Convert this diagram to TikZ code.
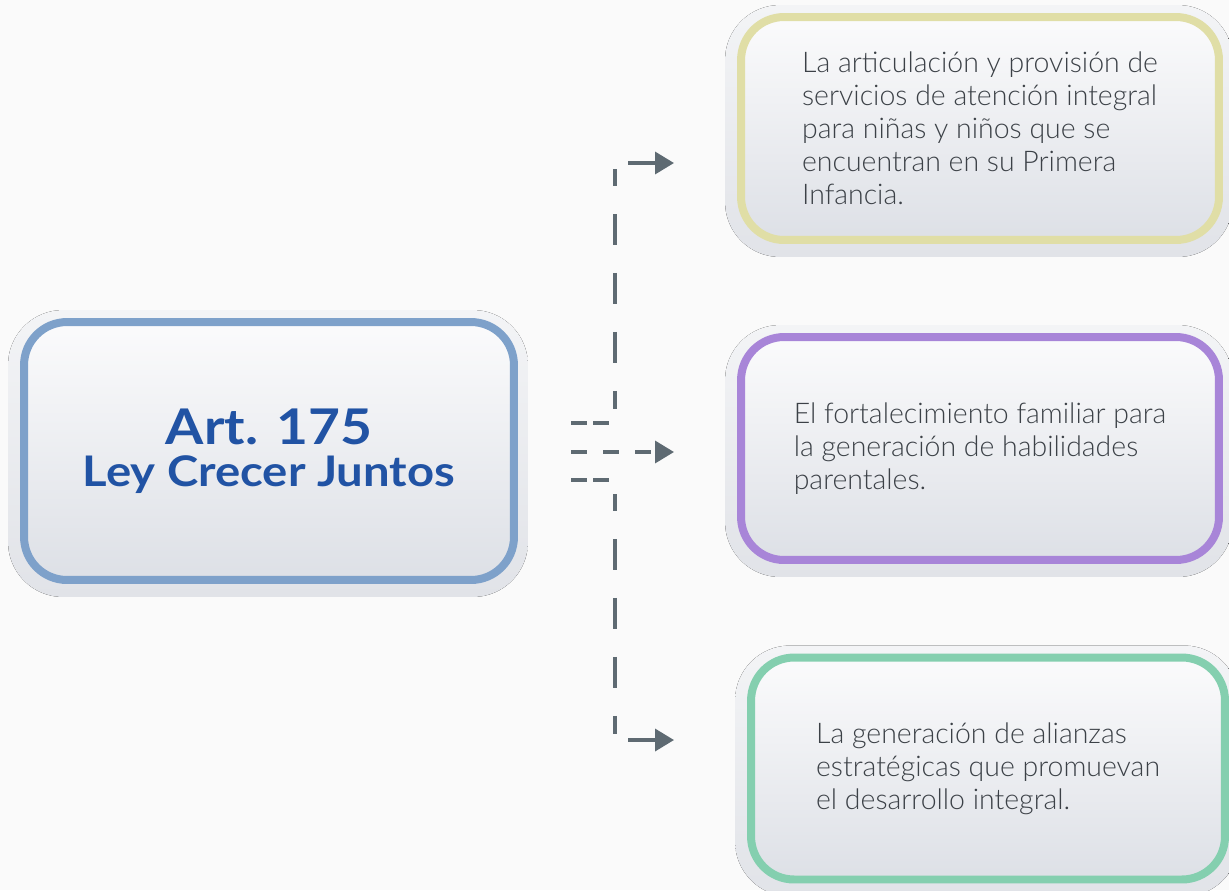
\documentclass[tikz,border=0pt]{standalone}
\usepackage{fontspec}
\setmainfont{Lato}
\newfontfamily\lightfont{Lato Light}
\newfontfamily\titlefont[FakeStretch=1.12]{Lato}
\usetikzlibrary{arrows.meta,backgrounds}

\definecolor{paper}{HTML}{FAFAFA}
\definecolor{titleblue}{HTML}{2153A4}
\definecolor{bodytext}{HTML}{3C4147}
\definecolor{cardtop}{HTML}{FBFBFC}
\definecolor{cardbot}{HTML}{DDE0E6}
\definecolor{halotop}{HTML}{F3F4F6}
\definecolor{halobot}{HTML}{E1E3E8}
\definecolor{edgeblue}{HTML}{7EA1CA}
\definecolor{edgeyellow}{HTML}{E0DEA6}
\definecolor{edgepurple}{HTML}{A885D8}
\definecolor{edgegreen}{HTML}{84CFAF}
\definecolor{linkgray}{HTML}{5E6A72}

\tikzset{
  card/.style={draw,line width=0.16cm,rounded corners=0.86cm,top color=cardtop,bottom color=cardbot,
    align=left,text=bodytext,font=\lightfont\fontsize{16.2}{18.8}\selectfont},
  halo/.style={rounded corners=1.1cm,top color=halotop,bottom color=halobot},
  link/.style={linkgray,line width=0.07cm},
  linkdash/.style={link,dash pattern=on 0.62cm off 0.56cm,dash phase=0.28cm},
  tip/.style={-{Triangle[length=0.38cm,width=0.44cm]}}
}

\begin{document}
\begin{tikzpicture}[x=0.02cm,y=-0.02cm]
  \useasboundingbox (0,0) rectangle (1229,890);
  \node[card,draw=edgeblue,align=center,text=titleblue,font=\titlefont\bfseries\fontsize{24}{24}\selectfont,
    minimum width=9.8cm,minimum height=5.16cm](art)at(269,451)
    {{\fontsize{28}{24}\selectfont Art. 175}\\Ley Crecer Juntos};
  \node[card,draw=edgeyellow,minimum width=9.56cm,minimum height=4.46cm](srv)at(980,128.5)
    {La articulación y provisión de\\servicios de atención integral\\para niñas y niños que se\\encuentran en su Primera\\Infancia.};
  \node[card,draw=edgepurple,minimum width=9.56cm,minimum height=4.46cm](fam)at(980,448.5)
    {El fortalecimiento familiar para\\la generación de habilidades\\parentales.};
  \node[card,draw=edgegreen,minimum width=9.48cm,minimum height=4.44cm](ali)at(988,768.5)
    {La generación de alianzas\\estratégicas que promuevan\\el desarrollo integral.};

  \begin{scope}[on background layer]
    \fill[paper](0,0)rectangle(1229,890);
    \foreach \c in {art,srv,fam,ali}
      \fill[halo]([shift={(-12,-8)}]\c.north west)rectangle([shift={(10,13)}]\c.south east);
  \end{scope}

  \coordinate(vtop)at(615,169);
  \coordinate(vup)at(615,409);
  \coordinate(vdown)at(615,494);
  \coordinate(vbot)at(615,734);
  \draw[linkdash](vtop)--(vup);
  \draw[linkdash](vdown)--(vbot);

  \coordinate(hup)at(571,423);
  \coordinate(hupend)at(609,423);
  \coordinate(hlow)at(571,480);
  \coordinate(hlowend)at(609,480);
  \draw[link,dash pattern=on 0.32cm off 0.12cm](hup)--(hupend);
  \draw[link,dash pattern=on 0.32cm off 0.12cm](hlow)--(hlowend);

  \coordinate(a)at(628,163);
  \coordinate(b)at(674,163);
  \coordinate(c)at(571,452);
  \coordinate(d)at(674,452);
  \coordinate(e)at(628,740);
  \coordinate(f)at(674,740);
  \draw[link,tip](a)--(b);
  \draw[link,tip,dash pattern=on 0.32cm off 0.32cm](c)--(d);
  \draw[link,tip](e)--(f);
\end{tikzpicture}
\end{document}
